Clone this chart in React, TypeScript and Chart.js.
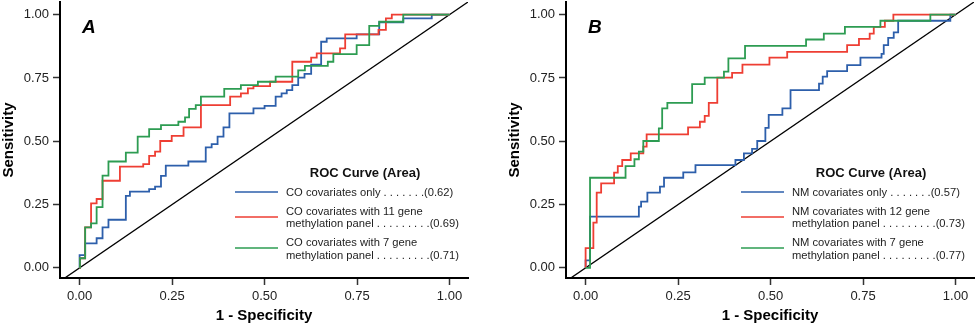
import React, { useEffect, useRef } from "react";
import { Chart, registerables } from "chart.js";

Chart.register(...registerables);

// ---------- data ----------
const tickValues = [0, 0.25, 0.5, 0.75, 1];
const diagX = [-0.08, 1.08];
const diagY = [-0.08, 1.08];

// Panel A (stepped: horizontal then vertical to each point)
const aBlueX = [0, 0, 0.015, 0.046, 0.062, 0.078, 0.125, 0.136, 0.188, 0.204, 0.22, 0.233, 0.294, 0.341, 0.357, 0.373, 0.389, 0.405, 0.47, 0.5, 0.53, 0.546, 0.56, 0.575, 0.591, 0.608, 0.626, 0.653, 0.668, 0.749, 0.81, 0.875, 0.952, 1];
const aBlueY = [0, 0.05, 0.097, 0.117, 0.16, 0.19, 0.284, 0.301, 0.311, 0.321, 0.363, 0.404, 0.42, 0.476, 0.489, 0.518, 0.555, 0.61, 0.63, 0.64, 0.676, 0.689, 0.702, 0.722, 0.751, 0.766, 0.803, 0.893, 0.906, 0.922, 0.97, 0.985, 1, 1];
const aRedX = [0, 0.001, 0.015, 0.031, 0.046, 0.062, 0.109, 0.172, 0.188, 0.204, 0.218, 0.249, 0.281, 0.328, 0.407, 0.436, 0.455, 0.47, 0.515, 0.575, 0.626, 0.641, 0.704, 0.718, 0.808, 0.828, 0.844, 1];
const aRedY = [0, 0.038, 0.16, 0.255, 0.272, 0.344, 0.4, 0.41, 0.442, 0.459, 0.501, 0.521, 0.555, 0.643, 0.676, 0.689, 0.709, 0.718, 0.735, 0.814, 0.83, 0.847, 0.867, 0.922, 0.94, 0.985, 1, 1];
const aGreenX = [0, 0.001, 0.015, 0.031, 0.046, 0.062, 0.078, 0.125, 0.157, 0.188, 0.22, 0.267, 0.285, 0.296, 0.314, 0.328, 0.391, 0.436, 0.482, 0.53, 0.591, 0.609, 0.671, 0.686, 0.749, 0.783, 0.81, 0.875, 1];
const aGreenY = [0, 0.038, 0.16, 0.176, 0.24, 0.364, 0.42, 0.455, 0.518, 0.548, 0.564, 0.577, 0.594, 0.628, 0.643, 0.676, 0.707, 0.722, 0.735, 0.755, 0.78, 0.798, 0.814, 0.844, 0.88, 0.956, 0.972, 1, 1];

// Panel B
const bBlueX = [0, 0, 0.012, 0.144, 0.15, 0.167, 0.201, 0.212, 0.264, 0.297, 0.405, 0.428, 0.45, 0.464, 0.486, 0.495, 0.532, 0.554, 0.631, 0.641, 0.653, 0.707, 0.743, 0.8, 0.806, 0.818, 0.833, 0.845, 0.986, 1];
const bBlueY = [0, 0.03, 0.202, 0.242, 0.262, 0.297, 0.321, 0.356, 0.377, 0.406, 0.426, 0.452, 0.47, 0.501, 0.553, 0.604, 0.63, 0.702, 0.728, 0.755, 0.777, 0.801, 0.83, 0.845, 0.88, 0.908, 0.93, 0.976, 1, 1];
const bRedX = [0, 0, 0.021, 0.03, 0.042, 0.077, 0.087, 0.099, 0.122, 0.156, 0.165, 0.277, 0.309, 0.322, 0.333, 0.356, 0.396, 0.424, 0.497, 0.545, 0.707, 0.739, 0.768, 0.779, 0.809, 0.832, 1];
const bRedY = [0, 0.078, 0.179, 0.297, 0.334, 0.376, 0.402, 0.426, 0.452, 0.479, 0.527, 0.555, 0.577, 0.6, 0.652, 0.751, 0.77, 0.803, 0.83, 0.853, 0.88, 0.904, 0.925, 0.952, 0.976, 1, 1];
const bGreenX = [0, 0.012, 0.108, 0.132, 0.144, 0.156, 0.198, 0.207, 0.221, 0.288, 0.322, 0.374, 0.386, 0.431, 0.596, 0.644, 0.701, 0.797, 0.932, 1];
const bGreenY = [0, 0.356, 0.402, 0.429, 0.459, 0.501, 0.551, 0.63, 0.652, 0.726, 0.751, 0.775, 0.827, 0.877, 0.902, 0.925, 0.952, 0.976, 1, 1];

const legendTitle = "ROC Curve (Area)";
const aLegend = [
  ["CO covariates only . . . . . . .(0.62)"],
  ["CO covariates with 11 gene", "methylation panel . . . . . . . . .(0.69)"],
  ["CO covariates with 7 gene", "methylation panel . . . . . . . . .(0.71)"],
];
const bLegend = [
  ["NM covariates only . . . . . . .(0.57)"],
  ["NM covariates with 12 gene", "methylation panel . . . . . . . . .(0.73)"],
  ["NM covariates with 7 gene", "methylation panel . . . . . . . . .(0.77)"],
];

const BLUE = "#2d5fab";
const RED = "#ee3e33";
const GREEN = "#2d9c52";
const FONT = "'Liberation Sans', Arial, Helvetica, sans-serif";

const zip = (xs: number[], ys: number[]) => xs.map((x, i) => ({ x, y: ys[i] }));

function overlay(letter: string, legend: string[][]) {
  return {
    id: "overlay" + letter,
    afterDatasetsDraw(chart: any) {
      const ctx = chart.ctx;
      const { left, right } = chart.chartArea;
      ctx.save();
      ctx.fillStyle = "#000";
      ctx.textBaseline = "alphabetic";
      ctx.textAlign = "left";
      ctx.font = `italic bold 19px ${FONT}`;
      ctx.fillText(letter, left + 22, 33);

      ctx.textAlign = "center";
      ctx.textBaseline = "middle";
      ctx.font = `bold 13px ${FONT}`;
      ctx.fillStyle = "#111";
      ctx.fillText(legendTitle, right - 103, 173);

      const colors = [BLUE, RED, GREEN];
      const lineYs = [192, 217, 248];
      const textYs = [[193], [211.5, 224], [243, 256]];
      ctx.font = `11.2px ${FONT}`;
      ctx.textAlign = "left";
      legend.forEach((lines, i) => {
        ctx.strokeStyle = colors[i];
        ctx.lineWidth = 1.7;
        ctx.beginPath();
        ctx.moveTo(right - 233, lineYs[i]);
        ctx.lineTo(right - 190, lineYs[i]);
        ctx.stroke();
        ctx.fillStyle = "#222";
        lines.forEach((t, j) => ctx.fillText(t, right - 182, textYs[i][j]));
      });
      ctx.restore();
    },
  };
}

function buildConfig(letter: string, curves: { x: number[]; y: number[]; c: string }[], legend: string[][], padLeft: number, padRight: number): any {
  const ds: any[] = curves.map((cv) => ({
    data: zip(cv.x, cv.y),
    borderColor: cv.c,
    borderWidth: 1.8,
    showLine: true,
    stepped: "before",
    pointRadius: 0,
    fill: false,
  }));
  ds.push({
    data: zip(diagX, diagY),
    borderColor: "#000",
    borderWidth: 1.3,
    showLine: true,
    pointRadius: 0,
    fill: false,
  });
  const axisCommon = (title: string, titlePad: any) => ({
    type: "linear",
    afterBuildTicks: (s: any) => {
      s.ticks = tickValues.map((v) => ({ value: v }));
    },
    ticks: {
      callback: (v: any) => Number(v).toFixed(2),
      font: { family: FONT, size: 13 },
      color: "#222",
      padding: 4,
      maxRotation: 0,
      autoSkip: false,
    },
    grid: {
      display: true,
      drawOnChartArea: false,
      drawTicks: true,
      tickLength: 7,
      tickColor: "#333",
      tickWidth: 1.5,
    },
    border: { display: true, color: "#000", width: 2 },
    title: {
      display: true,
      text: title,
      font: { family: FONT, size: 15, weight: "bold" },
      color: "#000",
      padding: titlePad,
    },
  });
  return {
    type: "scatter",
    data: { datasets: ds },
    options: {
      responsive: false,
      animation: false,
      devicePixelRatio: 1,
      layout: { padding: { left: padLeft, right: padRight, top: 2, bottom: 0 } },
      plugins: { legend: { display: false }, tooltip: { enabled: false } },
      scales: {
        x: {
          ...axisCommon("1 - Specificity", { top: 0, bottom: 2 }),
          min: -0.053,
          max: 1.05,
          afterFit: (s: any) => {
            s.height = 49;
            s.paddingLeft = 0;
            s.paddingRight = 0;
          },
        },
        y: {
          ...axisCommon("Sensitivity", { top: 0, bottom: 0 }),
          min: -0.04,
          max: 1.05,
          afterFit: (s: any) => {
            s.width = 60;
            s.paddingTop = 0;
            s.paddingBottom = 0;
          },
        },
      },
    },
    plugins: [overlay(letter, legend)],
  };
}

function Panel(props: { letter: string; width: number; curves: any[]; legend: string[][]; padLeft: number; padRight: number }) {
  const ref = useRef<HTMLCanvasElement | null>(null);
  useEffect(() => {
    if (!ref.current) return;
    const chart = new Chart(ref.current, buildConfig(props.letter, props.curves, props.legend, props.padLeft, props.padRight));
    return () => chart.destroy();
  }, []);
  return <canvas ref={ref} width={props.width} height={327} style={{ display: "block", width: props.width, height: 327 }} />;
}

export default function App() {
  const aCurves = [
    { x: aGreenX, y: aGreenY, c: GREEN },
    { x: aRedX, y: aRedY, c: RED },
    { x: aBlueX, y: aBlueY, c: BLUE },
  ];
  const bCurves = [
    { x: bGreenX, y: bGreenY, c: GREEN },
    { x: bRedX, y: bRedY, c: RED },
    { x: bBlueX, y: bBlueY, c: BLUE },
  ];
  return (
    <div style={{ position: "absolute", left: 0, top: 0, width: 975, height: 327, display: "flex", background: "#fff" }}>
      <Panel letter="A" width={480} curves={aCurves} legend={aLegend} padLeft={0} padRight={12} />
      <Panel letter="B" width={495} curves={bCurves} legend={bLegend} padLeft={26} padRight={1} />
    </div>
  );
}
